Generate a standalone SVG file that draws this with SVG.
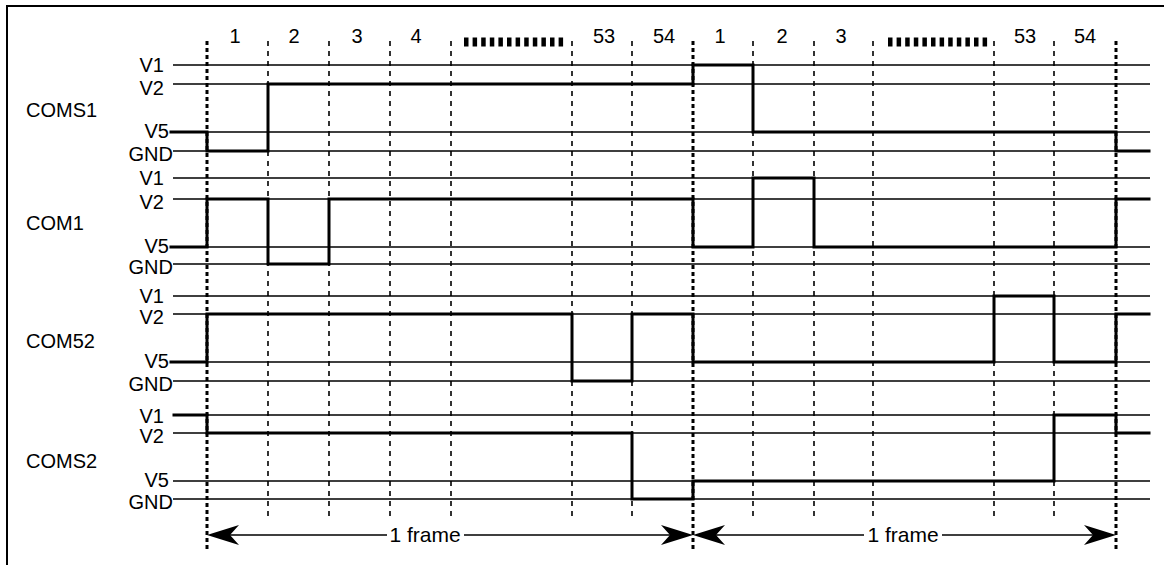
<svg xmlns="http://www.w3.org/2000/svg" width="1164" height="565" viewBox="0 0 1164 565">
<style>
  text { font-family: "Liberation Sans", Arial, sans-serif; fill: #000; }
  .name { font-size: 20px; }
  .lvl { font-size: 20px; text-anchor: end; }
  .num { font-size: 20px; text-anchor: middle; }
  .frm { font-size: 21px; text-anchor: middle; }
  .level { stroke: #000; stroke-width: 1.3; fill: none; }
  .wave { stroke: #000; stroke-width: 3; fill: none; stroke-linejoin: miter; stroke-linecap: square; }
  .grid-thin { stroke: #000; stroke-width: 1.6; stroke-dasharray: 5 5; fill: none; }
  .grid-thick { stroke: #000; stroke-width: 3; stroke-dasharray: 4 3; fill: none; }
  .ellipsis { stroke: #000; stroke-width: 9; stroke-dasharray: 4.5 4.1; fill: none; }
  .shaft { stroke: #000; stroke-width: 1.4; fill: none; }
  .border { stroke: #000; stroke-width: 2; fill: none; }
</style>
<defs>
  <path id="headL" d="M0,0 L32,-10 L23,0 L32,10 Z" fill="#000"/>
</defs>
<rect width="1164" height="565" fill="#fff"/>
<g id="border">
  <path class="border" d="M7,565 V6 H1164"/>
</g>
<g id="grid">
  <g id="slot-numbers">
    <text class="num" x="235" y="43">1</text>
    <text class="num" x="294" y="43">2</text>
    <text class="num" x="357" y="43">3</text>
    <text class="num" x="416" y="43">4</text>
    <line class="ellipsis" x1="464" y1="42" x2="566" y2="42"/>
    <text class="num" x="604" y="43">53</text>
    <text class="num" x="664" y="43">54</text>
    <text class="num" x="720" y="43">1</text>
    <text class="num" x="782" y="43">2</text>
    <text class="num" x="841" y="43">3</text>
    <line class="ellipsis" x1="888" y1="42" x2="990" y2="42"/>
    <text class="num" x="1025" y="43">53</text>
    <text class="num" x="1085" y="43">54</text>
  </g>
  <g id="dividers">
    <line class="grid-thick" x1="207" y1="41" x2="207" y2="550"/>
    <line class="grid-thin" x1="268" y1="41" x2="268" y2="517"/>
    <line class="grid-thin" x1="329" y1="41" x2="329" y2="517"/>
    <line class="grid-thin" x1="390" y1="41" x2="390" y2="517"/>
    <line class="grid-thin" x1="451" y1="41" x2="451" y2="517"/>
    <line class="grid-thin" x1="572" y1="41" x2="572" y2="517"/>
    <line class="grid-thin" x1="632" y1="41" x2="632" y2="517"/>
    <line class="grid-thick" x1="693" y1="41" x2="693" y2="550"/>
    <line class="grid-thin" x1="753" y1="41" x2="753" y2="517"/>
    <line class="grid-thin" x1="814" y1="41" x2="814" y2="517"/>
    <line class="grid-thin" x1="873" y1="41" x2="873" y2="517"/>
    <line class="grid-thin" x1="994" y1="41" x2="994" y2="517"/>
    <line class="grid-thin" x1="1054" y1="41" x2="1054" y2="517"/>
    <line class="grid-thick" x1="1116" y1="41" x2="1116" y2="550"/>
  </g>
</g>
<g id="COMS1">
  <text class="name" x="26" y="117">COMS1</text>
  <text class="lvl" x="164" y="72">V1</text>
  <text class="lvl" x="164" y="95">V2</text>
  <text class="lvl" x="169" y="138">V5</text>
  <text class="lvl" x="173" y="161">GND</text>
  <path class="level" d="M173,65 H1150 M173,84 H1150 M173,132 H1150 M173,151 H1150"/>
  <path class="wave" d="M171,132 H207 V151 H268 V84 H693 V65 H753 V132 H1116 V151 H1149"/>
</g>
<g id="COM1">
  <text class="name" x="26" y="230">COM1</text>
  <text class="lvl" x="164" y="185">V1</text>
  <text class="lvl" x="164" y="209">V2</text>
  <text class="lvl" x="169" y="253">V5</text>
  <text class="lvl" x="173" y="274">GND</text>
  <path class="level" d="M173,178 H1150 M173,199 H1150 M173,247 H1150 M173,264 H1150"/>
  <path class="wave" d="M171,247 H207 V199 H268 V264 H329 V199 H693 V247 H753 V178 H814 V247 H1116 V199 H1149"/>
</g>
<g id="COM52">
  <text class="name" x="26" y="348">COM52</text>
  <text class="lvl" x="164" y="303">V1</text>
  <text class="lvl" x="164" y="324">V2</text>
  <text class="lvl" x="169" y="368">V5</text>
  <text class="lvl" x="173" y="391">GND</text>
  <path class="level" d="M173,296 H1150 M173,314 H1150 M173,362 H1150 M173,381 H1150"/>
  <path class="wave" d="M171,362 H207 V314 H572 V381 H632 V314 H693 V362 H994 V296 H1054 V362 H1116 V314 H1149"/>
</g>
<g id="COMS2">
  <text class="name" x="26" y="468">COMS2</text>
  <text class="lvl" x="164" y="423">V1</text>
  <text class="lvl" x="164" y="443">V2</text>
  <text class="lvl" x="169" y="487">V5</text>
  <text class="lvl" x="173" y="509">GND</text>
  <path class="level" d="M173,415 H1150 M173,433 H1150 M173,481 H1150 M173,499 H1150"/>
  <path class="wave" d="M174,415 H207 V433 H632 V499 H693 V481 H1054 V415 H1116 V433 H1149"/>
</g>
<g id="connectors">
  <path class="shaft" d="M220,535 H387 M464,535 H680 M706,535 H864 M942,535 H1103"/>
  <use href="#headL" transform="translate(207,535)"/>
  <use href="#headL" transform="translate(693,535) scale(-1,1)"/>
  <use href="#headL" transform="translate(693,535)"/>
  <use href="#headL" transform="translate(1116,535) scale(-1,1)"/>
  <text class="frm" x="425" y="542">1 frame</text>
  <text class="frm" x="903" y="542">1 frame</text>
</g>
</svg>
